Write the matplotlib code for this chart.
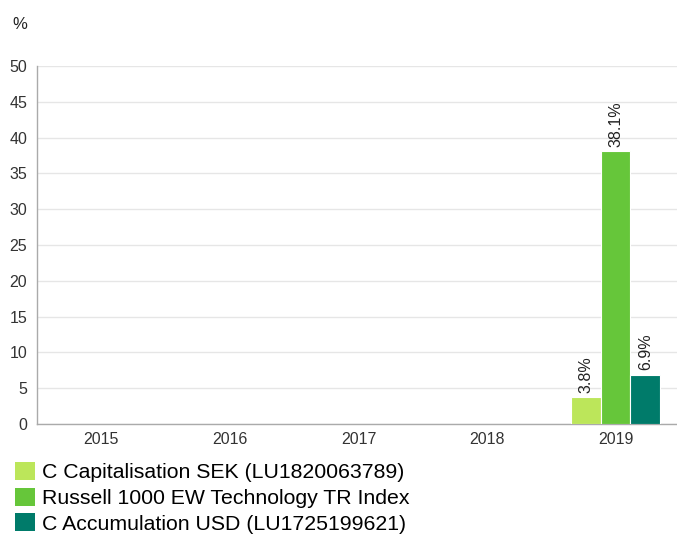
import matplotlib
matplotlib.use("Agg")
import matplotlib.pyplot as plt
import numpy as np
from matplotlib.patches import Patch

plt.rcParams['font.family'] = ['Liberation Sans', 'DejaVu Sans']

years = ['2015', '2016', '2017', '2018', '2019']
series_names = ['C Capitalisation SEK (LU1820063789)',
                'Russell 1000 EW Technology TR Index',
                'C Accumulation USD (LU1725199621)']
sek = [None, None, None, None, 3.8]
index = [None, None, None, None, 38.1]
usd = [None, None, None, None, 6.9]
colors = ['#bce65a', '#66c63a', '#007b6a']

fig = plt.figure(figsize=(6.77, 5.36), dpi=100)
ax = fig.add_axes([37/677, 112/536, 643/677, 358/536])

x = np.arange(len(years))
w = 0.23
for k, (vals, col) in enumerate(zip([sek, index, usd], colors)):
    for i, v in enumerate(vals):
        if v is None:
            continue
        xp = x[i] + (k - 1) * w
        ax.bar(xp, v, width=w, color=col, edgecolor='white', linewidth=0.8, zorder=3)
        ax.annotate(f'{v:.1f}%', (xp, v), xytext=(0, 3), textcoords='offset points',
                    rotation=90, ha='center', va='bottom', fontsize=11.5, color='#222222')

ax.set_xlim(-0.5, 4.5)
ax.set_ylim(0, 50)
ax.set_yticks(np.arange(0, 51, 5))
ax.set_xticks(x)
ax.set_xticklabels(years)
ax.tick_params(axis='both', length=0, labelsize=11.5, colors='#333333')
ax.tick_params(axis='y', pad=7)
ax.tick_params(axis='x', pad=6)
ax.grid(axis='y', color='#e6e6e6', linewidth=1, zorder=0)
for s in ['top', 'right']:
    ax.spines[s].set_visible(False)
for s in ['left', 'bottom']:
    ax.spines[s].set_color('#aaaaaa')
    ax.spines[s].set_linewidth(1)

fig.text(12/677, 1 - 29/536, '%', fontsize=12, color='#222222')

handles = [Patch(facecolor=c, edgecolor='none') for c in colors]
fig.legend(handles, series_names, loc='upper left', bbox_to_anchor=(15/677, 1 - 462/536),
           frameon=False, fontsize=15.3, handlelength=0.95, handleheight=0.95,
           labelspacing=0.24, handletextpad=0.3, borderpad=0, borderaxespad=0)

fig.savefig('out.png', dpi=100)
